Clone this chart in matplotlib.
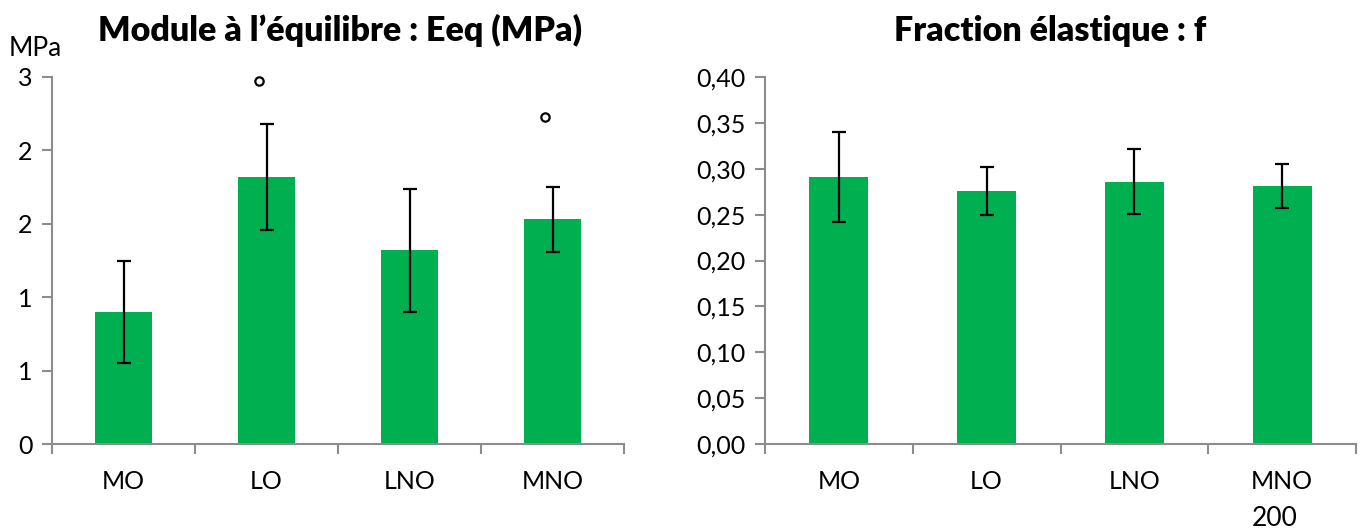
import matplotlib
matplotlib.use("Agg")
import matplotlib.pyplot as plt
import numpy as np

plt.rcParams['font.family'] = ['Lato', 'DejaVu Sans']

categories = ["MO", "LO", "LNO", "MNO"]

eeq_values = [0.90, 1.82, 1.32, 1.53]
eeq_errors = [0.35, 0.36, 0.42, 0.22]
eeq_sig_y = [None, 2.47, None, 2.23]
eeq_ticks = [0, 0.5, 1, 1.5, 2, 2.5]
eeq_ticklabels = ["0", "1", "1", "2", "2", "3"]

f_values = [0.291, 0.276, 0.286, 0.281]
f_errors = [0.049, 0.026, 0.035, 0.024]
f_ticks = [0, 0.05, 0.10, 0.15, 0.20, 0.25, 0.30, 0.35, 0.40]
f_ticklabels = ["0,00", "0,05", "0,10", "0,15", "0,20", "0,25", "0,30", "0,35", "0,40"]

GREEN = "#00B050"
GRAY = "#8c8c8c"
FS = 18

W, H = 1365, 531
fig = plt.figure(figsize=(W/100, H/100), dpi=100)

def style(ax, ticks, labels, ymax):
    x = np.arange(len(categories))
    ax.set_xlim(-0.5, len(categories) - 0.5)
    ax.set_ylim(0, ymax)
    ax.set_yticks(ticks)
    ax.set_yticklabels(labels, fontsize=FS)
    ax.set_xticks(x)
    ax.set_xticklabels(categories, fontsize=FS)
    ax.tick_params(axis='x', length=0, pad=19)
    ax.set_xticks(np.arange(len(categories) + 1) - 0.5, minor=True)
    ax.tick_params(axis='x', which='minor', length=7, color=GRAY, width=1.5, direction='out')
    ax.tick_params(axis='y', length=7, color=GRAY, width=1.5, pad=7)
    for s in ['top', 'right']:
        ax.spines[s].set_visible(False)
    for s in ['left', 'bottom']:
        ax.spines[s].set_color(GRAY)
        ax.spines[s].set_linewidth(1.5)

# Left chart
ax1 = fig.add_axes([52/W, 1 - 444/H, 572/W, 367/H])
x = np.arange(len(categories))
ax1.bar(x, eeq_values, width=0.4, color=GREEN, zorder=2)
ax1.errorbar(x, eeq_values, yerr=eeq_errors, fmt='none', ecolor='black',
             elinewidth=1.6, capsize=5, capthick=1.6, zorder=3)
for xi, sy in zip(x, eeq_sig_y):
    if sy is not None:
        ax1.plot(xi - 0.05, sy, marker='o', markersize=6, markerfacecolor='white',
                 markeredgecolor='black', markeredgewidth=1.6, linestyle='none',
                 zorder=3, clip_on=False)
style(ax1, eeq_ticks, eeq_ticklabels, 2.5)

# Right chart
ax2 = fig.add_axes([765/W, 1 - 444/H, 591/W, 367/H])
ax2.bar(x, f_values, width=0.4, color=GREEN, zorder=2)
ax2.errorbar(x, f_values, yerr=f_errors, fmt='none', ecolor='black',
             elinewidth=1.6, capsize=5, capthick=1.6, zorder=3)
style(ax2, f_ticks, f_ticklabels, 0.40)

fig.text(340/W, 1 - 30/H, "Module à l’équilibre : Eeq (MPa)", fontsize=24.5,
         fontweight='heavy', ha='center', va='center')
fig.text(1050/W, 1 - 31/H, "Fraction élastique : f", fontsize=24.5,
         fontweight='heavy', ha='center', va='center')
fig.text(9/W, 1 - 48/H, "MPa", fontsize=19, ha='left', va='center')
fig.text(1275/W, 1 - 519/H, "200", fontsize=19, ha='center', va='center')

fig.savefig("out.png", dpi=100)
